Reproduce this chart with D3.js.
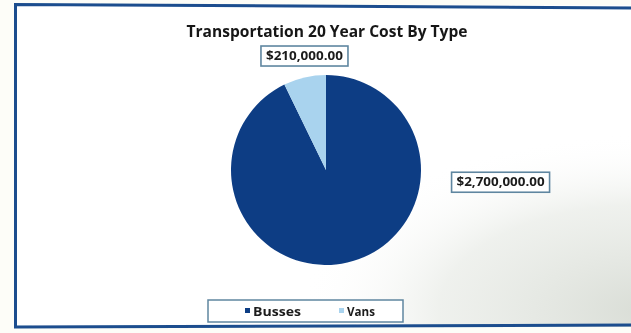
<!DOCTYPE html>
<html>
<head>
<meta charset="utf-8">
<script src="https://cdn.jsdelivr.net/npm/d3@7"></script>
<style>
  html, body { margin: 0; padding: 0; background: #fdfdf8; }
  svg { display: block; }
  text { font-family: "Open Sans", "DejaVu Sans Condensed", sans-serif; font-weight: bold; }
</style>
</head>
<body>
<svg id="chart" width="631" height="333"></svg>
<script>
// Transportation cost data
const categories = ["Busses", "Vans"];
const costs = [2700000, 210000];
const valueLabels = ["$2,700,000.00", "$210,000.00"];
const colors = ["#0e3d84", "#a9d3ee"];
const title = "Transportation 20 Year Cost By Type";

const W = 631, H = 333;
const svg = d3.select("#chart");
const defs = svg.append("defs");

// paper shading toward the lower right
const shade = defs.append("radialGradient").attr("id", "shade")
  .attr("cx", "1").attr("cy", "0.95").attr("r", "0.55");
shade.append("stop").attr("offset", "0").attr("stop-color", "#d9ddd6").attr("stop-opacity", 1);
shade.append("stop").attr("offset", "0.6").attr("stop-color", "#e8ebe6").attr("stop-opacity", 0.7);
shade.append("stop").attr("offset", "1").attr("stop-color", "#ffffff").attr("stop-opacity", 0);

const soft = defs.append("filter").attr("id", "soft");
soft.append("feGaussianBlur").attr("stdDeviation", 0.45);

// chart area
svg.append("rect").attr("x", 16).attr("y", 5).attr("width", W).attr("height", 322).attr("fill", "#ffffff");
svg.append("rect").attr("x", 16).attr("y", 5).attr("width", W).attr("height", 322).attr("fill", "url(#shade)");

// outer frame
svg.append("path")
  .attr("d", d3.line()([[W + 5, 8], [15.5, 4.5], [15.5, 327], [W + 5, 325]]))
  .attr("fill", "none").attr("stroke", "#1b4d8e").attr("stroke-width", 3)
  .attr("filter", "url(#soft)");

const g = svg.append("g").attr("filter", "url(#soft)");

// title
g.append("text")
  .attr("x", 327).attr("y", 37)
  .attr("text-anchor", "middle")
  .attr("font-size", 16)
  .attr("textLength", 281).attr("lengthAdjust", "spacingAndGlyphs")
  .attr("fill", "#151515")
  .text(title);

// pie
const cx = 326, cy = 170, R = 95;
const pie = d3.pie().sort(null).value(d => d)(costs);
const arc = d3.arc().innerRadius(0).outerRadius(R);
const pg = g.append("g").attr("transform", `translate(${cx},${cy})`);
pg.selectAll("path").data(pie).join("path")
  .attr("d", arc)
  .attr("fill", (d, i) => colors[i]);

// data labels, placed outside the slices
const labelPos = [
  { angle: Math.PI / 2 + 0.07, r: 175, len: 88 },
  { angle: null, r: 116, len: 77 }
];
pie.forEach((d, i) => {
  const a = labelPos[i].angle !== null ? labelPos[i].angle : (d.startAngle + d.endAngle) / 2 + 0.04;
  const x = cx + Math.sin(a) * labelPos[i].r;
  const y = cy - Math.cos(a) * labelPos[i].r;
  const bw = labelPos[i].len + 10, bh = 20;
  g.append("rect")
    .attr("x", x - bw / 2).attr("y", y - bh / 2)
    .attr("width", bw).attr("height", bh)
    .attr("fill", "#ffffff")
    .attr("stroke", "#5f86a0").attr("stroke-width", 1.6);
  g.append("text")
    .attr("x", x).attr("y", y + 4)
    .attr("text-anchor", "middle")
    .attr("font-size", 12)
    .attr("textLength", labelPos[i].len).attr("lengthAdjust", "spacingAndGlyphs")
    .attr("fill", "#1a1a1a")
    .text(valueLabels[i]);
});

// legend
const lg = g.append("g");
lg.append("rect")
  .attr("x", 208).attr("y", 300).attr("width", 195).attr("height", 22)
  .attr("fill", "#ffffff").attr("stroke", "#5f86a0").attr("stroke-width", 1.5);
const legendX = [245, 339];
const legendLen = [48, 28];
categories.forEach((c, i) => {
  lg.append("rect")
    .attr("x", legendX[i]).attr("y", 308).attr("width", 5).attr("height", 5)
    .attr("fill", colors[i]);
  lg.append("text")
    .attr("x", legendX[i] + 8).attr("y", 316)
    .attr("font-size", 12).attr("fill", "#1a1a1a")
    .attr("textLength", legendLen[i]).attr("lengthAdjust", "spacingAndGlyphs")
    .text(c);
});
</script>
</body>
</html>
